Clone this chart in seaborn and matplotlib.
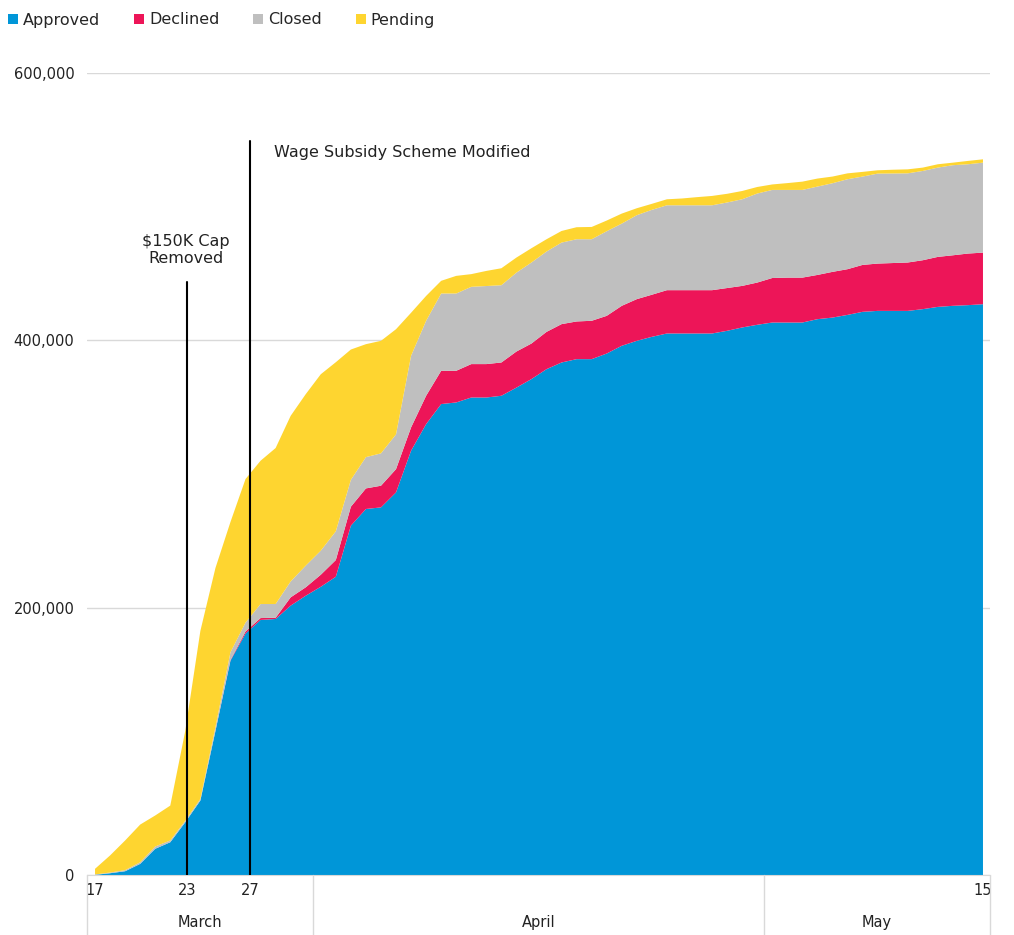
import matplotlib
matplotlib.use('Agg')
from matplotlib import pyplot as plt
from matplotlib.patches import Patch
import seaborn as sns
import pandas as pd

# daily cumulative counts, 17 March - 15 May
days = pd.date_range('2020-03-17', '2020-05-15', freq='D')

approved = [500, 1700, 3200, 8700, 20000, 24900, 39900, 56100, 108000, 160700,
            181000, 191200, 191900, 201900, 209300, 216000, 223500, 261700, 274200, 275400,
            286600, 317800, 337700, 352700, 353900, 357600, 357600, 358900, 365000, 371400,
            378800, 383800, 386300, 386300, 390500, 396300, 400000, 403000, 405500, 405500,
            405500, 405500, 407500, 410000, 412000, 413700, 413700, 413700, 416200, 417400,
            419400, 421700, 422400, 422400, 422400, 423700, 425400, 426200, 426700, 427400]
declined = [0, 0, 0, 0, 0, 0, 0, 0, 200, 500,
            1500, 1400, 900, 6200, 6300, 9000, 12500, 14200, 15400, 16200,
            17400, 17400, 21200, 24900, 23700, 25000, 25000, 24900, 27000, 26600,
            27900, 28700, 28200, 28700, 28200, 29900, 31200, 31500, 32400, 32400,
            32400, 32400, 32000, 31100, 31600, 33300, 33600, 33600, 33100, 34200,
            34200, 35100, 35400, 35800, 36200, 36600, 37400, 37800, 38600, 38600]
closed = [300, 500, 800, 1200, 1700, 1300, 1200, 1200, 2800, 5800,
          6700, 10500, 10300, 11900, 16200, 18000, 21500, 20100, 23400, 24200,
          26000, 53600, 56100, 57800, 57800, 57800, 58400, 57800, 59000, 60600,
          60100, 61000, 61500, 61000, 63300, 61500, 62800, 63500, 63500, 63500,
          63500, 63500, 64000, 64800, 66600, 65900, 65600, 65600, 66100, 66300,
          67300, 66100, 67300, 67000, 66700, 66800, 66800, 67400, 66800, 67300]
pending = [4200, 12800, 22200, 28200, 23200, 26100, 67300, 125700, 119000, 97500,
           107400, 107200, 116700, 123900, 128300, 132000, 126500, 97500, 84500, 84200,
           78700, 32200, 18600, 9500, 13200, 9500, 11300, 12700, 11300, 10700,
           9200, 8700, 9000, 9200, 8000, 7500, 5200, 4500, 4500, 5100,
           6100, 7000, 6500, 6200, 4900, 4100, 5100, 6200, 6000, 5000,
           4400, 3500, 2500, 2800, 3000, 2500, 2500, 1900, 2500, 2500]

series = ['Approved', 'Declined', 'Closed', 'Pending']
colors = ['#0096d8', '#ed1558', '#bfbfbf', '#fed530']

tick_pos = [0, 6.15, 10.35, 59]
tick_labels = ['17', '23', '27', '15']
months = ['March', 'April', 'May']
month_edges = [-0.5, 14.5, 44.5, 59.5]

events = [(6.15, 444000, '$150K Cap\nRemoved'),
          (10.35, 549500, 'Wage Subsidy Scheme Modified')]

sns.set_style('white')
plt.rcParams['font.family'] = ['DejaVu Sans']

fig = plt.figure(figsize=(10.14, 9.35), dpi=100)
ax = fig.add_axes([87 / 1014, 60 / 935, 903 / 1014, 802 / 935])

x = list(range(len(days)))
ax.stackplot(x, approved, declined, closed, pending, colors=colors,
             labels=series, linewidth=0, zorder=2)

ax.set_xlim(-0.5, 59.5)
ax.set_ylim(0, 600000)
ax.set_yticks([0, 200000, 400000, 600000])
ax.set_yticklabels(['0', '200,000', '400,000', '600,000'])
ax.yaxis.grid(True, color='#d9d9d9', linewidth=1, zorder=0)
ax.set_axisbelow(True)
ax.set_xticks(tick_pos)
ax.set_xticklabels(tick_labels)
ax.tick_params(axis='both', length=0, labelsize=10.5, colors='#222222')
ax.tick_params(axis='y', pad=9)
ax.tick_params(axis='x', pad=6)

for s in ['left', 'right', 'top']:
    ax.spines[s].set_visible(False)
ax.spines['bottom'].set_color('#d9d9d9')

# month band below the axis
trans = ax.get_xaxis_transform()
for e in month_edges:
    ax.plot([e, e], [0, -0.08], transform=trans, color='#d9d9d9',
            linewidth=1, clip_on=False)
for i, m in enumerate(months):
    mid = (month_edges[i] + month_edges[i + 1]) / 2
    ax.text(mid, -0.059, m, transform=trans, ha='center', va='center',
            fontsize=10.5, color='#222222')

# event markers
ax.plot([events[0][0]] * 2, [0, events[0][1]], color='black', linewidth=1.5, zorder=3)
ax.plot([events[1][0]] * 2, [0, events[1][1]], color='black', linewidth=1.5, zorder=3)
ax.text(6.05, 467500, events[0][2], ha='center', va='center', fontsize=11.5,
        linespacing=1.2, color='#222222')
ax.text(11.9, 540500, events[1][2], ha='left', va='center', fontsize=11.5,
        color='#222222')

handles = [Patch(facecolor=c, edgecolor='none') for c in colors]
fig.legend(handles, series, loc='center left', bbox_to_anchor=(8 / 1014, 1 - 20 / 935),
           ncol=4, frameon=False, fontsize=11.5, handlelength=0.65, handleheight=0.65,
           handletextpad=0.3, columnspacing=2.1, borderpad=0, borderaxespad=0)

fig.savefig('out.png', dpi=100)
